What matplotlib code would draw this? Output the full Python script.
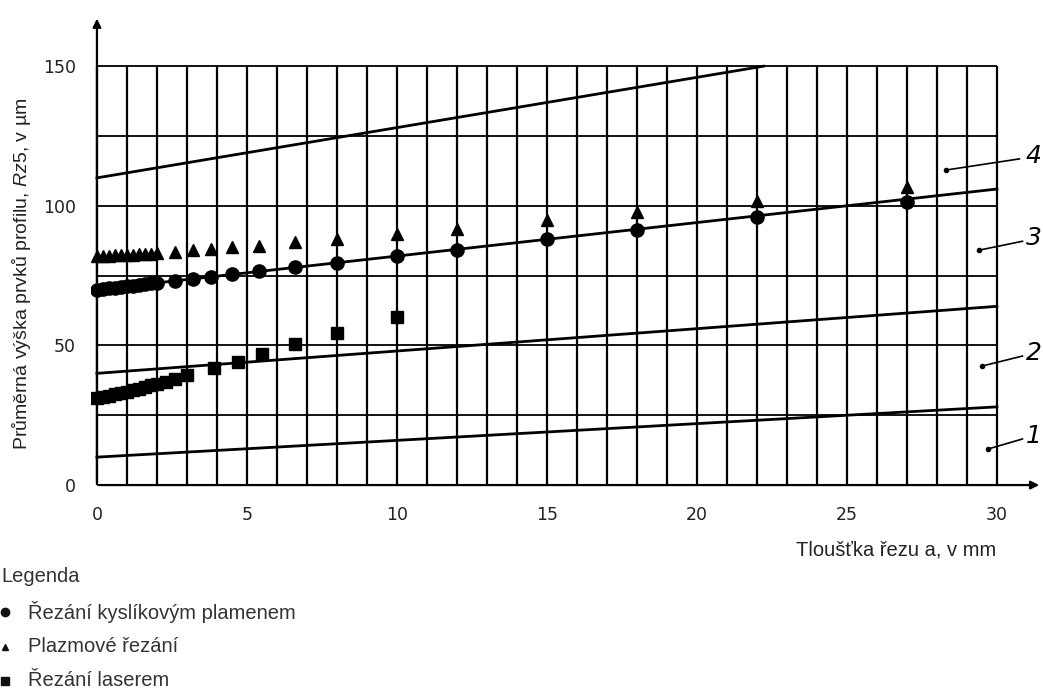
import matplotlib
matplotlib.use("Agg")
import matplotlib.pyplot as plt
from matplotlib.lines import Line2D
import numpy as np

plt.rcParams['font.family'] = ['Liberation Sans', 'DejaVu Sans']
plt.rcParams['mathtext.fontset'] = 'custom'
plt.rcParams['mathtext.it'] = 'Liberation Sans:italic'
plt.rcParams['mathtext.rm'] = 'Liberation Sans'

# Thickness a (mm) and measured Rz5 (um) per cutting method
oxy_x = [0, 0.2, 0.4, 0.6, 0.8, 1.0, 1.2, 1.4, 1.6, 1.8, 2.0, 2.6, 3.2, 3.8, 4.5, 5.4,
         6.6, 8.0, 10.0, 12.0, 15.0, 18.0, 22.0, 27.0]
oxy_y = [70, 70.2, 70.5, 70.7, 71, 71.2, 71.4, 71.7, 71.9, 72.2, 72.4, 73.1, 73.8, 74.6, 75.6, 76.5,
         78, 79.6, 82, 84.3, 88, 91.5, 96, 101.5]

plasma_x = [0, 0.2, 0.4, 0.6, 0.8, 1.0, 1.2, 1.4, 1.6, 1.8, 2.0, 2.6, 3.2, 3.8, 4.5, 5.4,
            6.6, 8.0, 10.0, 12.0, 15.0, 18.0, 22.0, 27.0]
plasma_y = [82, 82, 82.1, 82.2, 82.3, 82.4, 82.5, 82.6, 82.7, 82.8, 83, 83.5, 84, 84.5, 85.2, 85.5,
            87, 88, 90, 91.7, 95, 97.8, 101.8, 106.8]

laser_x = [0, 0.2, 0.4, 0.6, 0.8, 1.0, 1.2, 1.4, 1.6, 1.8, 2.0, 2.3, 2.6, 3.0, 3.9, 4.7, 5.5, 6.6, 8.0, 10.0]
laser_y = [31, 31.5, 32, 32.5, 33, 33.5, 34, 34.5, 35, 35.7, 36.3, 37, 38, 39.4, 42, 44, 47, 50.5, 54.5, 60]

# Range boundaries Rz5 = rz0 + slope * a
range_rz0 = [10, 40, 70, 110]
range_slope = [0.6, 0.8, 1.2, 1.8]
range_names = ["1", "2", "3", "4"]

x_ticks = [0, 5, 10, 15, 20, 25, 30]
y_ticks = [0, 50, 100, 150]

fig = plt.figure(figsize=(10.43, 6.91), dpi=100)
ax = fig.add_axes([0.0872, 0.294, 0.9118, 0.683])
ax.set_xlim(-0.2, 31.5)
ax.set_ylim(-1, 168)
for s in ax.spines.values():
    s.set_visible(False)

# grid
ax.vlines(np.arange(0, 31), 0, 150, color='black', lw=1.6, zorder=1)
ax.hlines(np.arange(0, 151, 25), 0, 30, color='black', lw=1.3, zorder=1)

# axes with arrows
ax.annotate('', xy=(31.5, 0), xytext=(0, 0),
            arrowprops=dict(arrowstyle='-|>', color='black', lw=1.6, mutation_scale=12))
ax.annotate('', xy=(0, 168), xytext=(0, 0),
            arrowprops=dict(arrowstyle='-|>', color='black', lw=1.6, mutation_scale=12))

# range boundaries
for a0, k in zip(range_rz0, range_slope):
    x_end = min(30, (150 - a0) / k)
    xs = np.array([0, x_end])
    ax.plot(xs, a0 + k * xs, color='black', lw=2.0, zorder=2)

# measured points
ax.plot(plasma_x, plasma_y, ls='none', marker='^', ms=8, color='black', zorder=3)
ax.plot(oxy_x, oxy_y, ls='none', marker='o', ms=9.5, color='black', zorder=3)
ax.plot(laser_x, laser_y, ls='none', marker='s', ms=9, color='black', zorder=3)

# range labels with leader lines
leader_start = [(29.7, 12.9), (29.5, 42.6), (29.4, 84.1), (28.3, 112.8)]
leader_end = [(30.85, 16.5), (30.85, 46.2), (30.85, 87.3), (30.75, 116.8)]
for name, (x0, y0), (x1, y1) in zip(range_names, leader_start, leader_end):
    ax.plot([x0, x1], [y0, y1], color='black', lw=1.2, clip_on=False)
    ax.plot([x0], [y0], marker='o', ms=3, color='black', clip_on=False)
    ax.text(31.48, y1 + 1, name, fontsize=18, style='italic', ha='right', va='center',
            family='DejaVu Sans', clip_on=False)

ax.set_xticks(x_ticks)
ax.set_xticklabels([str(v) for v in x_ticks], fontsize=12.5, family='DejaVu Sans')
ax.set_yticks(y_ticks)
ax.set_yticklabels([str(v) for v in y_ticks], fontsize=12.5, family='DejaVu Sans')
ax.tick_params(length=0, pad=11, colors='#222222')
ax.tick_params(axis='x', pad=13)

fig.text(22 / 1043, 1 - 274 / 691, r"Průměrná výška prvků profilu, $\mathit{Rz5}$, v µm",
         rotation=90, ha='center', va='center', fontsize=14, color='#222222')
fig.text(996 / 1043, 1 - 550 / 691, "Tloušťka řezu a, v mm", ha='right', va='center',
         fontsize=14.5, color='#222222')

# legend
fig.text(1 / 1043, 1 - 576 / 691, "Legenda", ha='left', va='center', fontsize=14.5, color='#333333')
leg_markers = ['o', '^', 's']
leg_labels = ["Řezání kyslíkovým plamenem", "Plazmové řezání", "Řezání laserem"]
leg_sizes = [6, 5, 6]
leg_ypx = [612, 647, 681]
for m, lab, ms, ypx in zip(leg_markers, leg_labels, leg_sizes, leg_ypx):
    yf = 1 - ypx / 691
    fig.add_artist(Line2D([5 / 1043], [yf], marker=m, ms=ms, color='#111111', ls='none',
                          transform=fig.transFigure))
    fig.text(28 / 1043, yf, lab, ha='left', va='center', fontsize=14.5, color='#333333')

fig.savefig("out.png", dpi=100)
